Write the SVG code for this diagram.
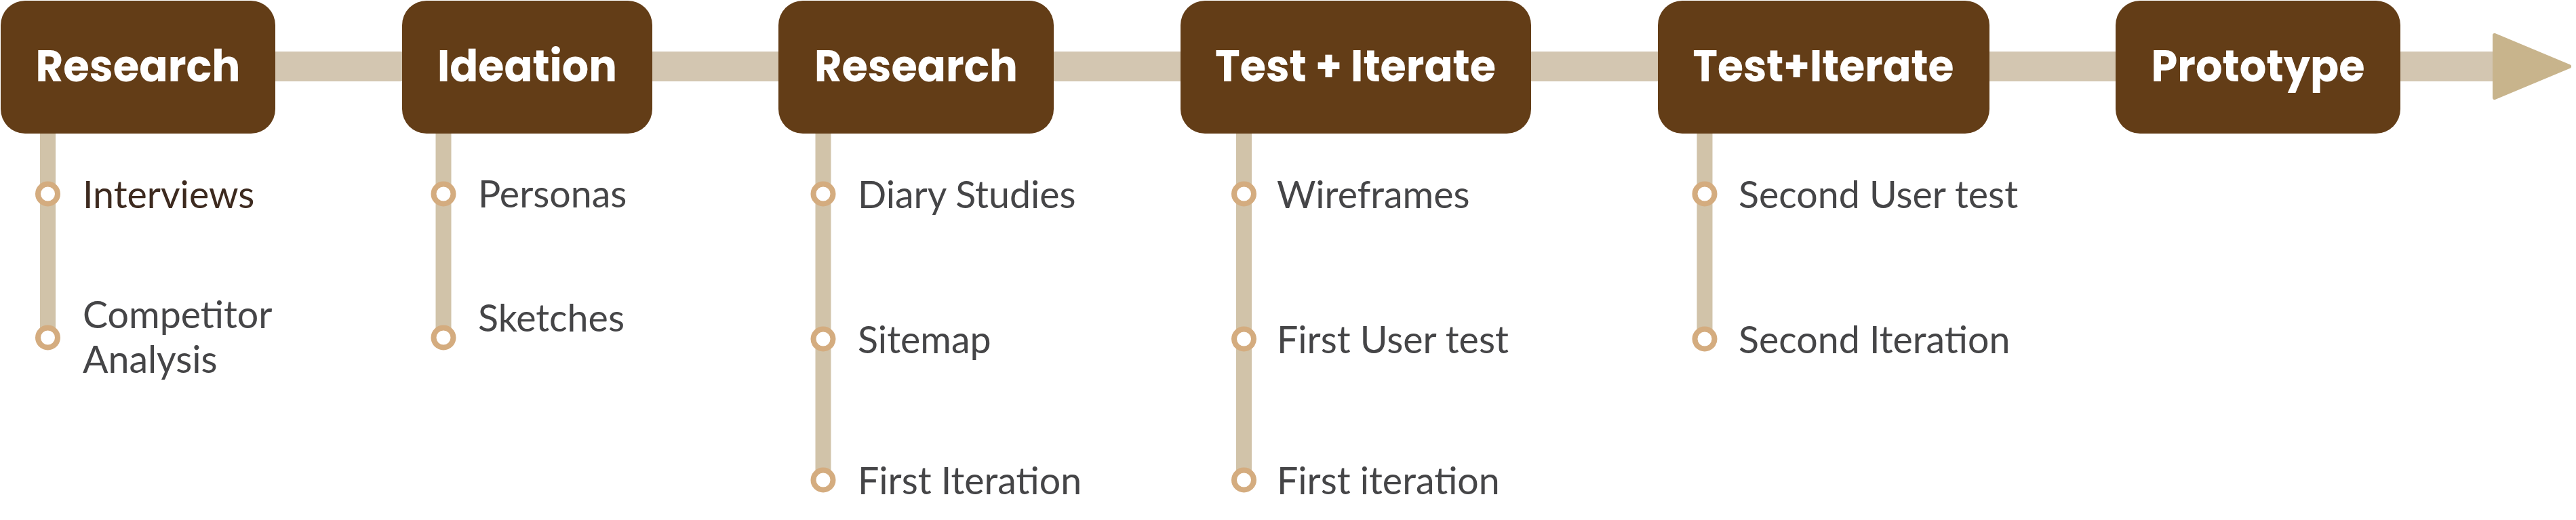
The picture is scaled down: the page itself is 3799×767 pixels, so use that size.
<svg xmlns="http://www.w3.org/2000/svg" width="3799" height="767" viewBox="0 0 3799 767">
<style>
.box{fill:#633d17}
.hd{font-family:Poppins,Inter,"Open Sans",sans-serif;font-weight:700;font-size:66px;fill:#ffffff;text-anchor:middle}
.it{font-family:Lato,"Open Sans",sans-serif;font-size:55.5px;fill:#454547}
.stem{stroke:#d1c3a9;stroke-width:23;fill:none}
.dot{fill:#ffffff;stroke:#d4ac7f;stroke-width:8}
</style>
<rect width="3799" height="767" fill="#ffffff"/>
<g id="connectors">
<rect x="200" y="76" width="3485" height="44" fill="#d3c6b1"/>
<polygon points="3679,52 3789,98 3679,144" fill="#c8b48c" stroke="#c8b48c" stroke-width="6" stroke-linejoin="round"/>
<line class="stem" x1="70.5" y1="190" x2="70.5" y2="498"/>
<line class="stem" x1="654" y1="190" x2="654" y2="498"/>
<line class="stem" x1="1214" y1="190" x2="1214" y2="708"/>
<line class="stem" x1="1834.5" y1="190" x2="1834.5" y2="708"/>
<line class="stem" x1="2514" y1="190" x2="2514" y2="500"/>
</g>
<g id="n-research1">
<rect class="box" x="1" y="1" width="405" height="196" rx="36"/>
<text class="hd" x="203.5" y="120" textLength="302" lengthAdjust="spacingAndGlyphs">Research</text>
</g>
<g id="n-ideation">
<rect class="box" x="593" y="1" width="369" height="196" rx="36"/>
<text class="hd" x="777.5" y="120" textLength="265" lengthAdjust="spacingAndGlyphs">Ideation</text>
</g>
<g id="n-research2">
<rect class="box" x="1148" y="1" width="406" height="196" rx="36"/>
<text class="hd" x="1351" y="120" textLength="300" lengthAdjust="spacingAndGlyphs">Research</text>
</g>
<g id="n-test1">
<rect class="box" x="1741" y="1" width="517" height="196" rx="36"/>
<text class="hd" x="1999" y="120" textLength="414" lengthAdjust="spacingAndGlyphs">Test + Iterate</text>
</g>
<g id="n-test2">
<rect class="box" x="2445" y="1" width="489" height="196" rx="36"/>
<text class="hd" x="2689" y="120" textLength="385" lengthAdjust="spacingAndGlyphs">Test+Iterate</text>
</g>
<g id="n-prototype">
<rect class="box" x="3120" y="1" width="420" height="196" rx="36"/>
<text class="hd" x="3330" y="120" textLength="315" lengthAdjust="spacingAndGlyphs">Prototype</text>
</g>
<g id="items-research1">
<circle class="dot" cx="70.5" cy="286" r="14.5"/>
<circle class="dot" cx="70.5" cy="498" r="14.5"/>
<text class="it" x="122" y="307" style="fill:#3d2a1f">Interviews</text>
<text class="it" x="122" y="484">Competitor</text>
<text class="it" x="122" y="550">Analysis</text>
</g>
<g id="items-ideation">
<circle class="dot" cx="654" cy="286" r="14.5"/>
<circle class="dot" cx="654" cy="498" r="14.5"/>
<text class="it" x="705" y="306">Personas</text>
<text class="it" x="705" y="489">Sketches</text>
</g>
<g id="items-research2">
<circle class="dot" cx="1214" cy="286" r="14.5"/>
<circle class="dot" cx="1214" cy="500" r="14.5"/>
<circle class="dot" cx="1214" cy="708" r="14.5"/>
<text class="it" x="1265" y="307">Diary Studies</text>
<text class="it" x="1265" y="521">Sitemap</text>
<text class="it" x="1265" y="729">First Iteration</text>
</g>
<g id="items-test1">
<circle class="dot" cx="1834.5" cy="286" r="14.5"/>
<circle class="dot" cx="1834.5" cy="500" r="14.5"/>
<circle class="dot" cx="1834.5" cy="708" r="14.5"/>
<text class="it" x="1883" y="307">Wireframes</text>
<text class="it" x="1883" y="521">First User test</text>
<text class="it" x="1883" y="729">First iteration</text>
</g>
<g id="items-test2">
<circle class="dot" cx="2514" cy="286" r="14.5"/>
<circle class="dot" cx="2514" cy="500" r="14.5"/>
<text class="it" x="2564" y="307">Second User test</text>
<text class="it" x="2564" y="521">Second Iteration</text>
</g>
</svg>
